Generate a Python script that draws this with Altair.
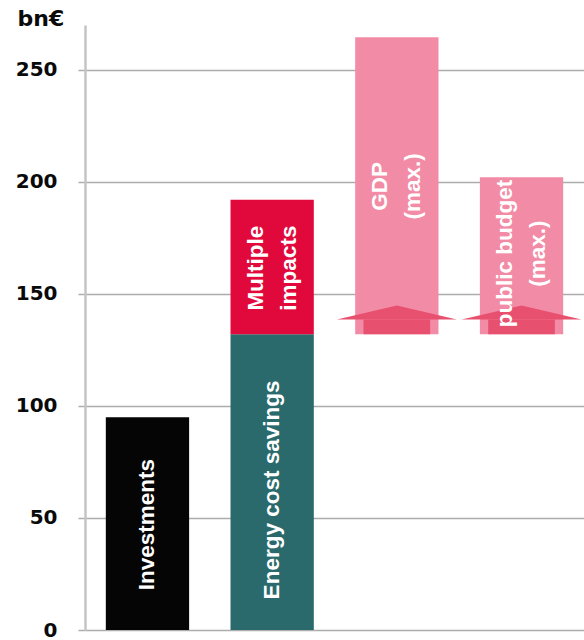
import altair as alt
import pandas as pd

# ---- data ----
columns = ["Investments", "Benefits", "GDP", "Budget"]

seg_column = ["Investments", "Benefits", "Benefits", "GDP", "Budget"]
seg_start = [0, 0, 132, 132, 132]
seg_end = [95, 132, 192, 264.5, 202]
seg_label = ["Investments", "Energy cost savings", "Multiple\nimpacts", "GDP\n(max.)", "public budget\n(max.)"]
seg_label_pos = [47, 62.5, 161.5, 198, 168]
seg_label_lines = [1, 1, 2, 2, 2]
seg_color = ["#050505", "#2a6a6c", "#e1093b", "#f28ba5", "#f28ba5"]

arrow_column = ["GDP", "Budget"]
arrow_base = [132, 132]
arrow_neck = [138.6, 138.6]
arrow_color = "#e8506f"

y_ticks = [0, 50, 100, 150, 200, 250]

segs = pd.DataFrame({
    "col": seg_column, "start": seg_start, "end": seg_end,
    "label": seg_label, "pos": seg_label_pos, "lines": seg_label_lines,
    "color": seg_color,
})
arrows = pd.DataFrame({"col": arrow_column, "base": arrow_base, "neck": arrow_neck})

xscale = alt.Scale(domain=columns, paddingInner=0.332, paddingOuter=0.167)
yscale = alt.Scale(domain=[0, 270], nice=False)

yaxis = alt.Axis(
    values=y_ticks, title="bn€", titleAngle=0, titleAlign="left",
    titleBaseline="alphabetic", titleX=-68, titleY=0,
    titleFont="DejaVu Sans", titleFontSize=22, titleFontWeight="bold",
    titleColor="#0a0a0a",
    labelFont="DejaVu Sans", labelFontSize=20, labelFontWeight="bold",
    labelColor="#0a0a0a", labelPadding=21, tickSize=7,
    tickColor="#adadad", tickWidth=1.5,
    grid=True, gridColor="#adadad", gridWidth=1.5,
    domainColor="#c4c4c4", domainWidth=2.5,
)

x = alt.X("col:N", scale=xscale, axis=None)

bars = alt.Chart(segs).mark_bar().encode(
    x=x,
    y=alt.Y("start:Q", scale=yscale, axis=yaxis),
    y2="end:Q",
    color=alt.Color("color:N", scale=None),
)

stems = alt.Chart(arrows).mark_bar(
    width=alt.RelativeBandSize(0.8), color=arrow_color
).encode(
    x=x,
    y=alt.Y("base:Q", scale=yscale, axis=yaxis),
    y2="neck:Q",
)

heads = alt.Chart(arrows).mark_point(
    shape="M-1,0L1,0L0,-0.2333Z", size=14400, filled=True,
    opacity=1, color=arrow_color, strokeWidth=0,
).encode(
    x=x,
    y=alt.Y("neck:Q", scale=yscale, axis=yaxis),
)

line_h = 33
text_style = dict(
    angle=270, color="white", fontWeight="bold", fontSize=22.5,
    font="Liberation Sans, Arial, sans-serif",
    lineBreak="\n", lineHeight=line_h, align="center", baseline="middle",
)

labels1 = alt.Chart(segs).transform_filter("datum.lines == 1").mark_text(
    **text_style
).encode(
    x=x,
    y=alt.Y("pos:Q", scale=yscale, axis=yaxis),
    text="label:N",
)

labels2 = alt.Chart(segs).transform_filter("datum.lines == 2").mark_text(
    dy=-line_h / 2, **text_style
).encode(
    x=x,
    y=alt.Y("pos:Q", scale=yscale, axis=yaxis),
    text="label:N",
)

chart = alt.layer(bars, stems, heads, labels1, labels2).properties(
    width=499, height=605,
    autosize=alt.AutoSizeParams(type="none"),
    padding={"left": 85, "top": 25, "right": 0, "bottom": 10},
    background="white",
).configure_view(strokeWidth=0)

chart.save("out.html", embed_options={"renderer": "svg", "actions": False})
